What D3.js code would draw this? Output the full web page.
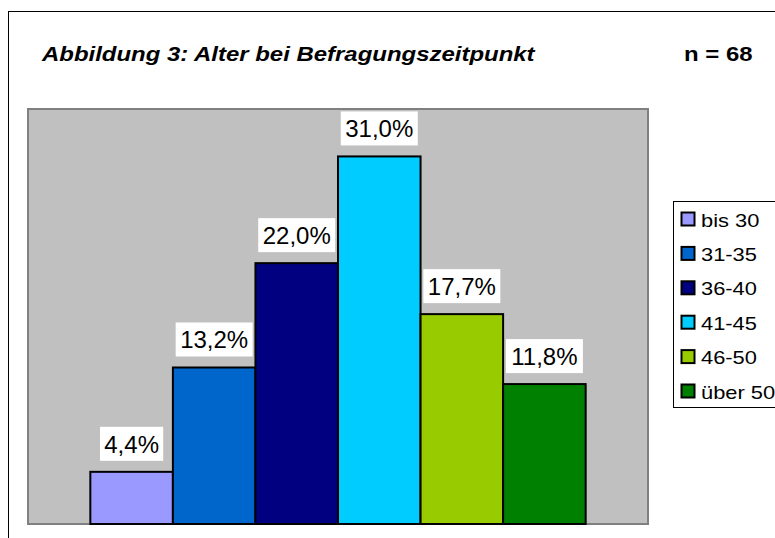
<!DOCTYPE html>
<meta charset='utf-8'>
<head>
    <title>Alter bei Befragungszeitpunkt</title>
    <script src='https://cdn.jsdelivr.net/npm/d3@7'></script>
</head>

<style>
    body { margin: 0; background: white; }
    text { font-family: 'Liberation Sans', Arial, sans-serif; }
</style>

<svg></svg>

<script>
    var vWidth = 775;
    var vHeight = 538;

    // Data
    var categories = ['bis 30', '31-35', '36-40', '41-45', '46-50', 'über 50'];
    var values = [4.4, 13.2, 22.0, 31.0, 17.7, 11.8];
    var colors = ['#9999FF', '#0066CC', '#000080', '#00CCFF', '#99CC00', '#008000'];
    var labels = ['4,4%', '13,2%', '22,0%', '31,0%', '17,7%', '11,8%'];

    var svg = d3.select('svg').attr('width', vWidth).attr('height', vHeight);

    // stretch text horizontally a bit, like the original
    function stretch(sel, f) {
        sel.each(function () {
            var w = this.getComputedTextLength();
            d3.select(this).attr('textLength', w * f).attr('lengthAdjust', 'spacingAndGlyphs');
        });
    }

    // outer frame (cut off at right/bottom)
    svg.append('rect')
        .attr('x', 8.5).attr('y', 11.5)
        .attr('width', vWidth + 20).attr('height', vHeight + 20)
        .attr('fill', 'white').attr('stroke', '#000').attr('stroke-width', 1);

    // Titles
    svg.append('text').attr('x', 42).attr('y', 61)
        .attr('font-size', 21).attr('font-weight', 'bold').attr('font-style', 'italic')
        .text('Abbildung 3: Alter bei Befragungszeitpunkt')
        .call(stretch, 1.14);
    svg.append('text').attr('x', 684).attr('y', 61)
        .attr('font-size', 21).attr('font-weight', 'bold')
        .text('n = 68')
        .call(stretch, 1.14);

    // Plot area
    var pLeft = 28, pRight = 648, pTop = 109, pBottom = 524;
    svg.append('rect')
        .attr('x', pLeft).attr('y', pTop)
        .attr('width', pRight - pLeft).attr('height', pBottom - pTop)
        .attr('fill', '#C0C0C0').attr('stroke', '#808080').attr('stroke-width', 2);

    var x = d3.scaleBand().domain(categories).range([pLeft, pRight])
        .paddingInner(0).paddingOuter(0.755);
    var y = d3.scaleLinear().domain([0, 35]).range([pBottom, pTop]);

    svg.selectAll('rect.bar').data(values).enter().append('rect')
        .attr('class', 'bar')
        .attr('x', function (d, i) { return x(categories[i]); })
        .attr('y', function (d) { return y(d); })
        .attr('width', x.bandwidth())
        .attr('height', function (d) { return y(0) - y(d); })
        .attr('fill', function (d, i) { return colors[i]; })
        .attr('stroke', '#000').attr('stroke-width', 2);

    // Data labels with white boxes
    var lbl = svg.selectAll('g.lbl').data(values).enter().append('g')
        .attr('class', 'lbl')
        .attr('transform', function (d, i) {
            return 'translate(' + (x(categories[i]) + x.bandwidth() / 2) + ',' + (y(d) - 11) + ')';
        });
    lbl.append('rect')
        .attr('x', function (d, i) { return -(labels[i].length * 13.8 + 8) / 2; })
        .attr('y', -34)
        .attr('width', function (d, i) { return labels[i].length * 13.8 + 8; })
        .attr('height', 34)
        .attr('fill', 'white');
    lbl.append('text')
        .attr('text-anchor', 'middle').attr('y', -8)
        .attr('font-size', 24)
        .text(function (d, i) { return labels[i]; });

    // Legend
    var lgX = 673, lgY = 201;
    svg.append('rect')
        .attr('x', lgX + 0.5).attr('y', lgY + 0.5)
        .attr('width', 120).attr('height', 206)
        .attr('fill', 'white').attr('stroke', '#000').attr('stroke-width', 1);
    var lg = svg.selectAll('g.lg').data(categories).enter().append('g')
        .attr('class', 'lg')
        .attr('transform', function (d, i) { return 'translate(' + lgX + ',' + (lgY + 18 + i * 34.4) + ')'; });
    lg.append('rect')
        .attr('x', 8.5).attr('y', -6.5).attr('width', 13).attr('height', 13)
        .attr('fill', function (d, i) { return colors[i]; })
        .attr('stroke', '#000').attr('stroke-width', 2);
    lg.append('text')
        .attr('x', 28).attr('y', 7.5)
        .attr('font-size', 19)
        .text(function (d) { return d; })
        .call(stretch, 1.15);
</script>
